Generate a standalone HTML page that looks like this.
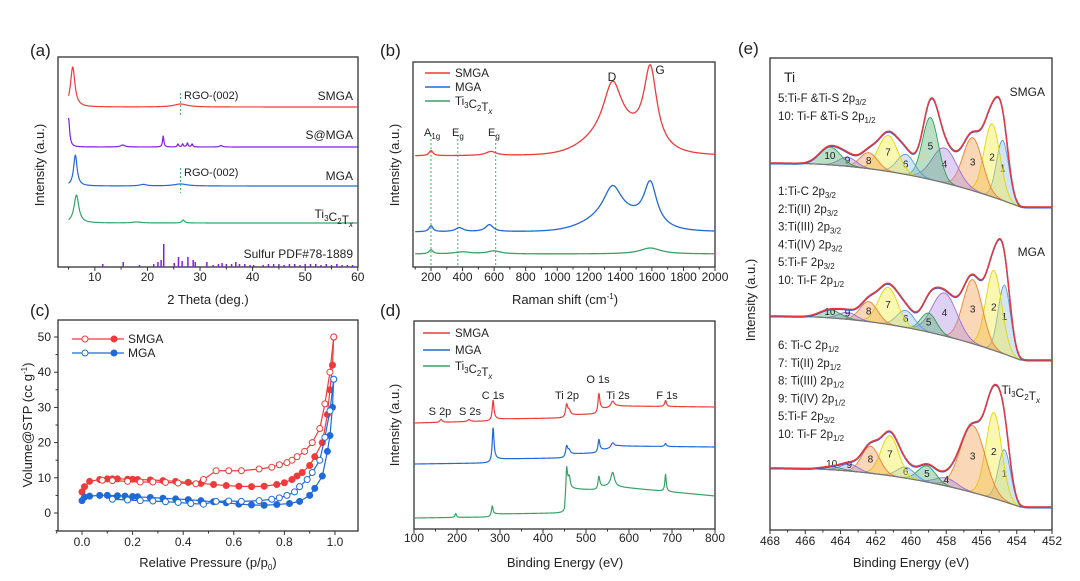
<!DOCTYPE html>
<html><head><meta charset="utf-8"><style>
html,body{margin:0;padding:0;background:#fff;}
svg{display:block;font-family:"Liberation Sans",Arial,sans-serif;}
</style></head><body>
<svg id="fig" width="1080" height="581" viewBox="0 0 1080 581" xmlns="http://www.w3.org/2000/svg"></svg>
<script>
// ---------- DATA ----------
// (a) XRD: [position(deg), height, width]
const xrdSMGA=[[5.8,40,0.5],[26.3,3,1.5]];
const xrdSMGAbase=160;
const xrdSMGA2=[[5.0,29,0.25],[23,11,0.15],[25.8,3,0.15],[26.7,3,0.15],[27.6,4,0.15],[28.5,3,0.15],[15.3,2,0.5],[34,1.5,0.3]];
const xrdSMGA2base=120;
const xrdMGA=[[6.3,31,0.4],[26.3,2,1.5],[19.2,1.5,0.8]];
const xrdMGAbase=81;
const xrdTi=[[6.5,28,0.55],[26.8,3,0.3],[18,1,1]];
const xrdTibase=44;
const sulfurPos=[11.5,15.4,18.5,21.2,22,22.6,23.1,25.1,25.9,26.6,27.7,28.7,29.1,31.3,32.5,33.5,34.2,35,36,36.8,37.5,38.5,39.5,40.2,42,43,44,45,46,47,48,49,50,51,52,53,54,55,56,57,58,59];
const sulfurInt=[3,5,2,3,5,7,23,4,10,6,10,7,5,5,2,3,4,3,3,5,3,3,2,2,2,3,3,3,2,3,3,2,3,3,3,2,3,2,3,2,2,2];
const xrdTicks=[10,20,30,40,50,60];
// (b) Raman: Lorentz peaks [pos,h,w]; broad gaussian [pos,h,sigma]
const ramSMGA=[[1350,50,70],[1590,77,50],[200,5,15],[580,4,40]];
const ramSMGAbroad=[[1380,22,170]];
const ramSMGAbase=111;
const ramMGA=[[1350,30,70],[1590,42,50],[200,6,15],[380,4,30],[570,7,30]];
const ramMGAbroad=[[1380,15,170]];
const ramMGAbase=35;
const ramTi=[[1590,6,80],[200,4,15],[400,2,60],[600,3,50]];
const ramTibroad=[];
const ramTibase=13;
const ramTicks=[200,400,600,800,1000,1200,1400,1600,1800,2000];
// (c) BET isotherms [p/p0, volume]
const smgaAdsP=[0,0.01,0.03,0.07,0.1,0.12,0.14,0.18,0.2,0.22,0.27,0.32,0.37,0.42,0.47,0.52,0.57,0.62,0.67,0.72,0.77,0.8,0.83,0.85,0.87,0.9,0.92,0.95,0.97,0.98,0.99,0.995];
const smgaAdsV=[6,7.5,9,9.5,9.7,9.7,9.7,9.6,9.6,9.5,9.4,9.2,9,8.7,8.4,8.1,7.8,7.6,7.5,7.6,8.1,8.6,9.5,10.5,11.5,13.5,16,20,28,35,42,50];
const smgaDesP=[0.995,0.98,0.96,0.94,0.91,0.88,0.85,0.83,0.81,0.78,0.75,0.7,0.63,0.58,0.53,0.48,0.45,0.38,0.33,0.28,0.23,0.18,0.12,0.08];
const smgaDesV=[50,40,31,24,20,17.5,16,15,14.3,13.7,13,12.5,12,12,12,9.5,8.3,8.5,8.7,8.8,8.8,9,9.2,9.3];
const mgaAdsP=[0,0.01,0.03,0.07,0.1,0.14,0.17,0.2,0.22,0.27,0.32,0.37,0.42,0.47,0.52,0.57,0.62,0.67,0.72,0.77,0.82,0.86,0.9,0.92,0.95,0.97,0.98,0.99,0.995];
const mgaAdsV=[3.5,4.5,4.8,5,5,4.9,4.8,4.7,4.6,4.4,4.2,4,3.8,3.5,3.2,2.9,2.5,2.3,2.2,2.4,2.7,3.3,5,7,10.5,17.5,22,30,38];
const mgaDesP=[0.995,0.98,0.96,0.94,0.91,0.89,0.86,0.84,0.81,0.78,0.75,0.7,0.63,0.58,0.53,0.48,0.43,0.38,0.33,0.28,0.23,0.18,0.12];
const mgaDesV=[38,29,21.5,15,11.5,9.5,7.5,6,5,4.3,3.9,3.5,3.3,3.4,3.3,2.5,2.7,3,3.2,3.4,3.5,3.7,3.9];
const betXTicks=[0,0.2,0.4,0.6,0.8,1.0];
const betYTicks=[0,10,20,30,40,50];
// (d) XPS survey: baseline control points [eV, level]; peaks [eV,h,w]
const surSMGAbase=[[100,106],[280,108],[290,110],[450,111],[460,114],[525,115],[535,120],[555,121],[575,123],[800,122]];
const surSMGApk=[[163,3,3],[228,2,4],[284,20,2.5],[455,12,3],[461,4,3],[530,18,2.5],[562,6,5],[685,6,2.5]];
const surMGAbase=[[100,65],[278,66],[290,70],[450,71],[460,75],[525,76],[535,79],[555,80],[575,83],[800,82]];
const surMGApk=[[284,33,2.5],[455,10,3],[461,3,3],[530,12,2.5],[562,5,5],[685,3,2.5]];
const surTibase=[[100,11],[278,12],[290,15],[450,16],[455,38],[470,40],[525,39],[535,42],[555,43],[575,42],[800,33]];
const surTipk=[[197,4,2],[282,10,2.5],[455,22,2.5],[461,12,3],[530,12,2.5],[562,14,5],[685,17,2]];
const surTicks=[100,200,300,400,500,600,700,800];
// (e) Ti 2p fits: peak positions (eV), sigmas, heights
const tiPos=[454.8,455.4,456.5,458.1,458.9,460.3,461.3,462.4,463.6,464.6];
const tiPosMGA=[454.7,455.3,456.5,458.1,459.0,460.3,461.3,462.4,463.6,464.6];
const tiPosTi=[454.7,455.3,456.5,458.0,459.1,460.3,461.2,462.3,463.5,464.5];
const tiSig=[0.35,0.45,0.55,0.7,0.45,0.5,0.55,0.5,0.5,0.6];
const tiSigTi=[0.35,0.45,0.7,0.6,0.5,0.5,0.5,0.5,0.5,0.6];
const tiHSMGA=[60,73,53,35,62,20,36,16,9,18];
const tiHMGA=[69,80,64,43,19,17,37,20,7,8];
const tiHTi=[52,86,67,8,16,11,40,27,7,3];
const tiTicks=[468,466,464,462,460,458,456,454,452];

// ---------- HELPERS ----------
const NS='http://www.w3.org/2000/svg';
const svg=document.getElementById('fig');
function mk(tag,attrs,name,parent){
  const el=document.createElementNS(NS,tag);
  for(const k in attrs) el.setAttribute(k,attrs[k]);
  
  
  (parent||svg).appendChild(el);
  return el;
}
function txt(x,y,html,size,anchor,name,extra){
  const el=mk('text',Object.assign({x:x,y:y,'font-size':size,'text-anchor':anchor||'start',fill:'#222'},extra||{}),name);
  el.innerHTML=html;
  return el;
}
const sub=(s)=>'<tspan font-size="8" dy="3">'+s+'</tspan><tspan dy="-3"></tspan>';
function poly(pts,color,name,w,fill,dash){
  const d='M'+pts.map(p=>p[0].toFixed(2)+','+p[1].toFixed(2)).join('L');
  return mk('path',{d:d+(fill?'Z':''),fill:fill||'none',stroke:color,'stroke-width':w||1.3,'stroke-dasharray':dash||'none','stroke-linejoin':'round'},name);
}
function frame(x0,y0,x1,y1,name){mk('rect',{x:x0,y:y0,width:x1-x0,height:y1-y0,fill:'none',stroke:'#333','stroke-width':1.3},name);}
function xAxis(sx,ticks,minor,yb,ly,name,fmt){
  ticks.forEach(t=>{mk('line',{x1:sx(t),x2:sx(t),y1:yb,y2:yb+4,stroke:'#333','stroke-width':1},name+'-tick');
    txt(sx(t),ly,fmt?fmt(t):String(t),12,'middle',name+'-label');});
  minor.forEach(t=>{mk('line',{x1:sx(t),x2:sx(t),y1:yb,y2:yb+2.5,stroke:'#333','stroke-width':1},name+'-minor-tick');});
}
const lor=(x,p)=>p[1]/(1+Math.pow((x-p[0])/p[2],2));
const gau=(x,p)=>p[1]*Math.exp(-Math.pow(x-p[0],2)/(2*p[2]*p[2]));
function interp(pts,x){for(let i=0;i<pts.length-1;i++){if(x<=pts[i+1][0]){const t=(x-pts[i][0])/(pts[i+1][0]-pts[i][0]);return pts[i][1]+t*(pts[i+1][1]-pts[i][1]);}}return pts[pts.length-1][1];}
function sample(a,b,n,f){const r=[];for(let i=0;i<=n;i++){const x=a+(b-a)*i/n;r.push([x,f(x)]);}return r;}

const RED='#ef3b3b',BLUE='#1f6ad8',GREEN='#35a466',PURP='#7f1ee6',DGREEN='#3cb46e';

// ---------- (a) ----------
(function(){
  const sx=v=>58+(v-3)*5.26, sy=v=>267-v;
  frame(58,57,358,267,'xrd-frame');
  xAxis(sx,xrdTicks,[5,15,25,35,45,55],267,281,'xrd-x');
  txt(208,304,'2 Theta (deg.)',13,'middle','xrd-x-title');
  txt(44,165,'Intensity (a.u.)',13,'middle','xrd-y-title',{transform:'rotate(-90 44 165)'});
  txt(30,56,'(a)',17,'start','panel-a-label');
  const series=[[xrdSMGA,xrdSMGAbase,RED,'xrd-smga'],[xrdSMGA2,xrdSMGA2base,PURP,'xrd-s-mga'],[xrdMGA,xrdMGAbase,BLUE,'xrd-mga'],[xrdTi,xrdTibase,GREEN,'xrd-ti3c2tx']];
  series.forEach(s=>{const pts=sample(5,60,700,x=>s[1]+s[0].reduce((a,p)=>a+lor(x,p),0)).map(p=>[sx(p[0]),sy(p[1])]);poly(pts,s[2],s[3]+'-line',1.2);});
  sulfurPos.forEach((p,i)=>{mk('line',{x1:sx(p),x2:sx(p),y1:267,y2:sy(sulfurInt[i]),stroke:PURP,'stroke-width':1.5},'sulfur-stick');});
  [[93,117],[168,193]].forEach(r=>mk('line',{x1:sx(26.3),x2:sx(26.3),y1:r[0],y2:r[1],stroke:DGREEN,'stroke-width':1,'stroke-dasharray':'2,2'},'rgo-002-marker'));
  txt(184,99,'RGO-(002)',11,'start','rgo-label');
  txt(184,176,'RGO-(002)',11,'start','rgo-label');
  txt(353,100,'SMGA',12,'end','xrd-smga-label');
  txt(353,139,'S@MGA',12,'end','xrd-s-mga-label');
  txt(353,180,'MGA',12,'end','xrd-mga-label');
  txt(353,218,'Ti'+sub('3')+'C'+sub('2')+'T<tspan font-style="italic" font-size="8" dy="3">x</tspan>',12,'end','xrd-ti-label');
  txt(353,258,'Sulfur PDF#78-1889',12,'end','sulfur-label');
})();

// ---------- (b) ----------
(function(){
  const sx=v=>413+(v-86)*0.1578, sy=v=>267-v;
  frame(413,62,715,267,'raman-frame');
  xAxis(sx,ramTicks,[100,300,500,700,900,1100,1300,1500,1700,1900],267,281,'raman-x');
  txt(565,304,'Raman shift (cm<tspan font-size="8" dy="-5">-1</tspan><tspan dy="5">)</tspan>',13,'middle','raman-x-title');
  txt(399,165,'Intensity (a.u.)',13,'middle','raman-y-title',{transform:'rotate(-90 399 165)'});
  txt(380,56,'(b)',17,'start','panel-b-label');
  [200,370,610].forEach(v=>mk('line',{x1:sx(v),x2:sx(v),y1:135,y2:267,stroke:DGREEN,'stroke-width':1,'stroke-dasharray':'2,2'},'phonon-marker'));
  const series=[[ramSMGA,ramSMGAbroad,ramSMGAbase,RED,'raman-smga'],[ramMGA,ramMGAbroad,ramMGAbase,BLUE,'raman-mga'],[ramTi,ramTibroad,ramTibase,GREEN,'raman-ti3c2tx']];
  series.forEach(s=>{const pts=sample(100,2000,600,x=>s[2]+s[0].reduce((a,p)=>a+lor(x,p),0)+s[1].reduce((a,p)=>a+gau(x,p),0)).map(p=>[sx(p[0]),sy(p[1])]);poly(pts,s[3],s[4]+'-line',1.3);});
  [['SMGA',RED,73],['MGA',BLUE,87],['Ti'+sub('3')+'C'+sub('2')+'T<tspan font-style="italic" font-size="8" dy="3">x</tspan>',GREEN,101]].forEach((l,i)=>{
    mk('line',{x1:425,x2:450,y1:l[2],y2:l[2],stroke:l[1],'stroke-width':1.6},'raman-legend-swatch');
    txt(455,l[2]+4,l[0],11.5,'start','raman-legend-label');});
  txt(612,81,'D',12,'middle','d-band-label');
  txt(660,74,'G',12,'middle','g-band-label');
  txt(424,136,'A'+sub('1g'),11,'start','a1g-label');
  txt(452,136,'E'+sub('g'),11,'start','eg-label');
  txt(488,136,'E'+sub('g'),11,'start','eg-label-2');
})();

// ---------- (c) ----------
(function(){
  const sx=v=>82+v*253, sy=v=>513-v*3.52;
  frame(58,320,358,531,'bet-frame');
  xAxis(sx,betXTicks,[-0.1,0.1,0.3,0.5,0.7,0.9],531,546,'bet-x',t=>t.toFixed(1));
  betYTicks.forEach(t=>{mk('line',{x1:58,x2:54,y1:sy(t),y2:sy(t),stroke:'#333'},'bet-y-tick');txt(51,sy(t)+4,String(t),12,'end','bet-y-label');});
  [-5,5,15,25,35,45].forEach(t=>mk('line',{x1:58,x2:55.5,y1:sy(t),y2:sy(t),stroke:'#333'},'bet-y-minor-tick'));
  txt(208,567,'Relative Pressure (p/p<tspan font-size="8" dy="3">0</tspan><tspan dy="-3">)</tspan>',13,'middle','bet-x-title');
  txt(32,425,'Volume@STP (cc g<tspan font-size="8" dy="-5">-1</tspan><tspan dy="5">)</tspan>',13,'middle','bet-y-title',{transform:'rotate(-90 32 425)'});
  txt(30,316,'(c)',17,'start','panel-c-label');
  const S=[[smgaAdsP,smgaAdsV,RED,true,'bet-smga-adsorption'],[smgaDesP,smgaDesV,RED,false,'bet-smga-desorption'],[mgaAdsP,mgaAdsV,BLUE,true,'bet-mga-adsorption'],[mgaDesP,mgaDesV,BLUE,false,'bet-mga-desorption']];
  S.forEach(s=>{const pts=s[0].map((p,i)=>[sx(p),sy(s[1][i])]);poly(pts,s[2],s[4]+'-line',1.2);
    pts.forEach(p=>mk('circle',{cx:p[0],cy:p[1],r:3,fill:s[3]?s[2]:'#fff',stroke:s[2],'stroke-width':1},s[4]+'-point'));});
  [['SMGA',RED,339],['MGA',BLUE,353]].forEach(l=>{
    mk('line',{x1:72,x2:124,y1:l[2],y2:l[2],stroke:l[1],'stroke-width':1.2},'bet-legend-line');
    mk('circle',{cx:85,cy:l[2],r:3,fill:'#fff',stroke:l[1]},'bet-legend-open');
    mk('circle',{cx:114,cy:l[2],r:3,fill:l[1],stroke:l[1]},'bet-legend-filled');
    txt(128,l[2]+4,l[0],12,'start','bet-legend-label');});
})();

// ---------- (d) ----------
(function(){
  const sx=v=>414+(v-100)*0.43, sy=v=>529-v;
  frame(414,321,715,529,'survey-frame');
  xAxis(sx,surTicks,[150,250,350,450,550,650,750],529,542,'survey-x');
  txt(565,567,'Binding Energy (eV)',13,'middle','survey-x-title');
  txt(399,425,'Intensity (a.u.)',13,'middle','survey-y-title',{transform:'rotate(-90 399 425)'});
  txt(380,316,'(d)',17,'start','panel-d-label');
  const S=[[surSMGAbase,surSMGApk,RED,'survey-smga'],[surMGAbase,surMGApk,BLUE,'survey-mga'],[surTibase,surTipk,GREEN,'survey-ti3c2tx']];
  S.forEach(s=>{const pts=sample(100,800,1400,x=>interp(s[0],x)+s[1].reduce((a,p)=>a+lor(x,p),0)).map(p=>[sx(p[0]),sy(p[1])]);poly(pts,s[2],s[3]+'-line',1.2);});
  [['SMGA',RED,333],['MGA',BLUE,350],['Ti'+sub('3')+'C'+sub('2')+'T<tspan font-style="italic" font-size="8" dy="3">x</tspan>',GREEN,366]].forEach(l=>{
    mk('line',{x1:423,x2:450,y1:l[2],y2:l[2],stroke:l[1],'stroke-width':1.6},'survey-legend-swatch');
    txt(455,l[2]+4,l[0],11.5,'start','survey-legend-label');});
  txt(440,415,'S 2p',11,'middle','s2p-label');
  txt(470,415,'S 2s',11,'middle','s2s-label');
  txt(493,399,'C 1s',11,'middle','c1s-label');
  txt(567,399,'Ti 2p',11,'middle','ti2p-label');
  txt(598,383,'O 1s',11,'middle','o1s-label');
  txt(618,399,'Ti 2s',11,'middle','ti2s-label');
  txt(667,399,'F 1s',11,'middle','f1s-label');
})();

// ---------- (e) ----------
(function(){
  const sx=v=>770+(468-v)*17.625;
  frame(770,58,1052,530,'ti2p-frame');
  xAxis(sx,tiTicks,[467,465,463,461,459,457,455,453],530,545,'ti2p-x');
  txt(911,567,'Binding Energy (eV)',13,'middle','ti2p-x-title');
  txt(755,300,'Intensity (a.u.)',13,'middle','ti2p-y-title',{transform:'rotate(-90 755 300)'});
  txt(738,54,'(e)',17,'start','panel-e-label');
  const fills=['#8fbde8','#f2ea3c','#f39a4a','#b08be0','#4fb26f','#8fbde8','#f2ea3c','#f39a4a','#b08be0','#4fb26f'];
  const strokes=['#5b9bd5','#e0d800','#ef7f2a','#9a6fd6','#2f9e57','#5b9bd5','#e0d800','#ef7f2a','#9a6fd6','#2f9e57'];
  const S=[[tiPos,tiSig,tiHSMGA,163,207,'smga'],[tiPosMGA,tiSig,tiHMGA,316,360,'mga'],[tiPosTi,tiSigTi,tiHTi,468,507,'ti3c2tx']];
  S.forEach(s=>{
    const bg=x=>{let t=(468-x)/(468-453.8);t=Math.max(0,Math.min(1,t));return s[3]+(s[4]-s[3])*Math.pow(t,2.2);};
    const bgPts=sample(468,452,400,x=>bg(x));
    s[0].forEach((p,i)=>{
      const a=Math.max(452,p-4*s[1][i]),b=Math.min(468,p+4*s[1][i]);
      const top=sample(b,a,80,x=>bg(x)-gau(x,[p,s[2][i],s[1][i]]));
      const bot=sample(a,b,80,x=>bg(x));
      const pts=top.concat(bot).map(q=>[sx(q[0]),q[1]]);
      const el=poly(pts,strokes[i],'ti2p-'+s[5]+'-component-'+(i+1),0.9,fills[i]);
      el.setAttribute('fill-opacity','0.4');
      const lx=sx(p), ly=bg(p)-s[2][i]*0.55+4;
      txt(lx,Math.min(ly,bg(p)-3),String(i+1),10,'middle','ti2p-component-number');
    });
    poly(bgPts.map(q=>[sx(q[0]),q[1]]),'#777','ti2p-'+s[5]+'-background',1.2);
    const env=sample(468,452,500,x=>bg(x)-s[0].reduce((acc,p,i)=>acc+gau(x,[p,s[2][i],s[1][i]]),0)).map(q=>[sx(q[0]),q[1]]);
    poly(env.map(q=>[q[0],q[1]+0.8]),'#2c5fd0','ti2p-'+s[5]+'-raw',1.4);
    poly(env,'#e8383d','ti2p-'+s[5]+'-envelope',1.5);
  });
  txt(784,82,'Ti',14,'start','ti-label');
  txt(1045,96,'SMGA',12,'end','ti2p-smga-label');
  txt(1045,256,'MGA',12,'end','ti2p-mga-label');
  txt(1040,394,'Ti'+sub('3')+'C'+sub('2')+'T<tspan font-style="italic" font-size="8" dy="3">x</tspan>',12,'end','ti2p-ti-label');
  const p32=' 2p<tspan font-size="8" dy="3">3/2</tspan><tspan dy="-3"></tspan>', p12=' 2p<tspan font-size="8" dy="3">1/2</tspan><tspan dy="-3"></tspan>';
  const blocks=[[102,['5:Ti-F &amp;Ti-S'+p32,'10: Ti-F &amp;Ti-S'+p12]],[195,['1:Ti-C'+p32,'2:Ti(II)'+p32,'3:Ti(III)'+p32,'4:Ti(IV)'+p32,'5:Ti-F '+p32,'10: Ti-F '+p12]],[349,['6: Ti-C'+p12,'7: Ti(II)'+p12,'8: Ti(III)'+p12,'9: Ti(IV)'+p12,'5:Ti-F '+p32,'10: Ti-F '+p12]]];
  blocks.forEach(b=>b[1].forEach((s,i)=>txt(778,b[0]+i*17.8,s,11.5,'start','ti2p-assignment')));
})();
</script>
</body></html>
